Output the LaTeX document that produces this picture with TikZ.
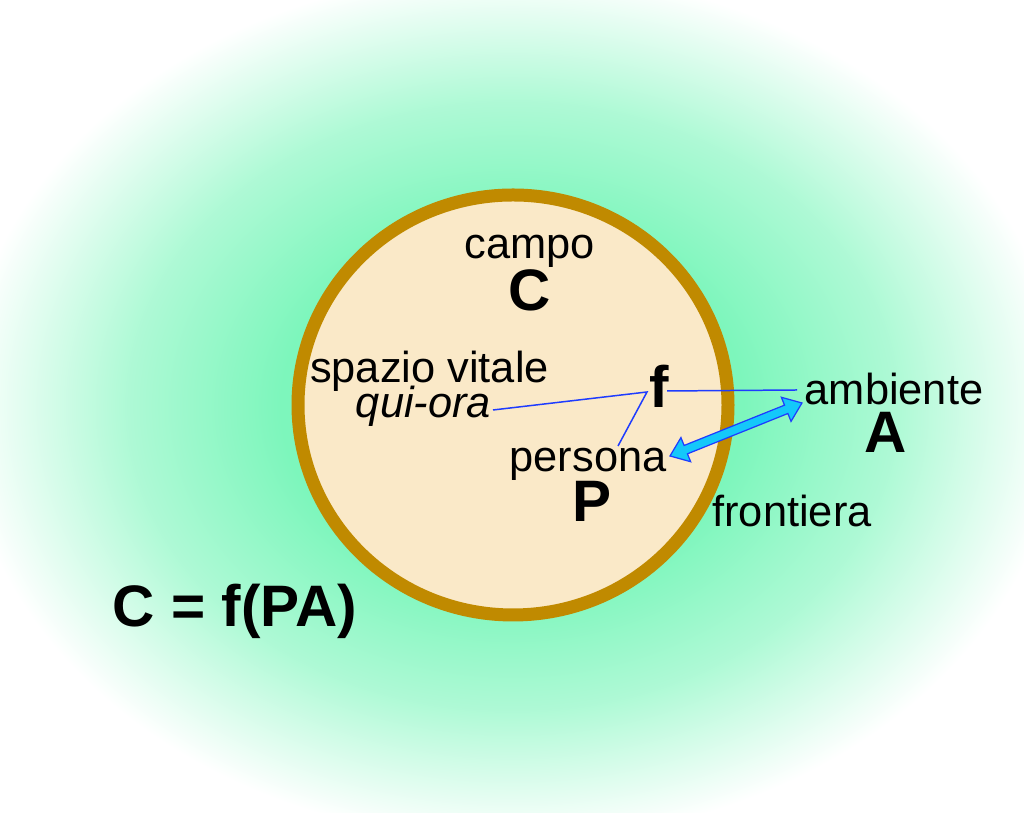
\documentclass[tikz,border=0pt]{standalone}
\usepackage{fontspec}
\setmainfont{Liberation Sans}
\definecolor{gl}{RGB}{125,246,188}
\definecolor{cream}{RGB}{250,233,200}
\definecolor{ring}{RGB}{192,138,0}
\definecolor{lineblue}{RGB}{30,60,255}
\definecolor{arrcyan}{RGB}{20,200,250}
\pgfdeclareradialshading{glow}{\pgfpointorigin}{color(0bp)=(gl); color(10.5bp)=(gl); color(17.5bp)=(gl!62!white); color(25bp)=(white); color(50bp)=(white)}
\begin{document}
\begin{tikzpicture}[x=0.02cm,y=0.02cm,
  lbl/.style={font=\fontsize{24.7}{30}\selectfont, inner sep=0pt, anchor=base},
  big/.style={font=\fontsize{33.3}{38}\selectfont\bfseries, inner sep=0pt, anchor=base},
  lead/.style={draw=lineblue, line width=0.85pt},
  dblarrow/.style={fill=arrcyan, draw=lineblue, line width=0.7pt, line join=miter}]
\useasboundingbox (0,0) rectangle (1024,813);
\clip (0,0) rectangle (1024,813);
\fill[white] (0,0) rectangle (1024,813);
\shade[shading=glow] (512,407) ellipse [x radius=550, y radius=435];
\draw[fill=cream, draw=ring, line width=0.26cm] (513,408) ellipse [x radius=215, y radius=210];

\node[lbl] (campo) at (530,554) {campo};
\node[big] (C) at (530,502) {C};
\node[lbl] (spazio) at (429.5,430) {spazio vitale};
\node[lbl] (qui) at (423.5,395) {\itshape qui-ora};
\node[big] (f) at (659,405) {f};
\node[lbl] (persona) at (588,341) {persona};
\node[big] (P) at (592,291) {P};
\node[lbl] (ambiente) at (894,408) {ambiente};
\node[big] (A) at (886,360) {A};
\node[lbl] (frontiera) at (792,286) {frontiera};
\node[big] (eq) at (235,186) {C = f(PA)};

\coordinate (qe) at (493,403);
\coordinate (j) at (647,421);
\coordinate (pn) at (618,367);
\coordinate (fr) at (667,422);
\coordinate (ae) at (797,423);
\draw[lead] (qe) -- (j) -- (pn);
\draw[lead] (fr) -- (ae);

\coordinate (aL) at (670,357);
\coordinate (aR) at (802,410);
\begin{scope}[shift={(aL)}, rotate=21.88]
\filldraw[dblarrow] (0,0) -- (17,13) -- (17,4.5) -- (125.2,4.5) -- (125.2,13) -- (142.2,0) -- (125.2,-13) -- (125.2,-4.5) -- (17,-4.5) -- (17,-13) -- cycle;
\end{scope}
\end{tikzpicture}
\end{document}
